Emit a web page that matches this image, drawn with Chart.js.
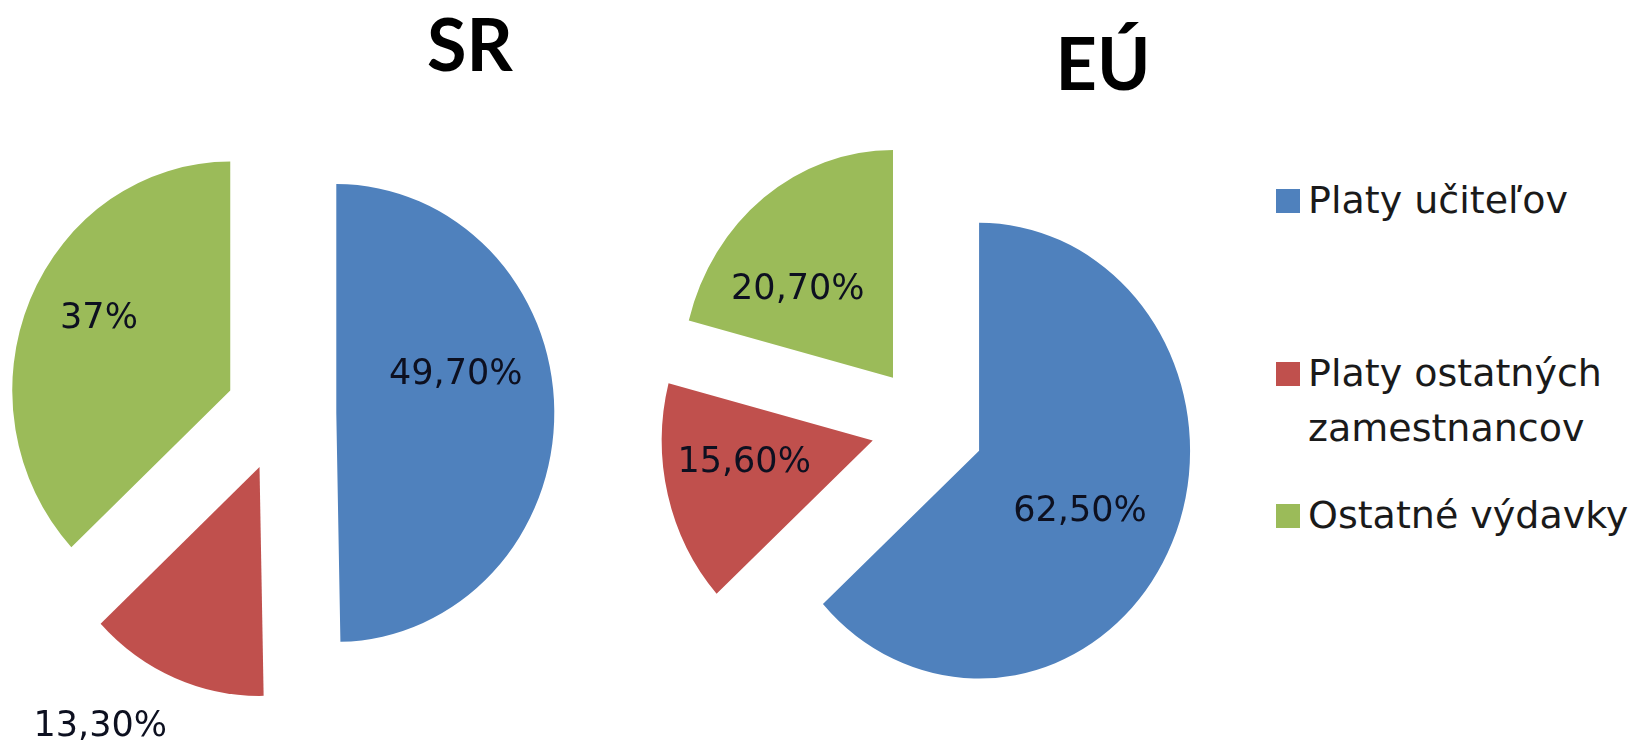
<!DOCTYPE html>
<html lang="sk">
<head>
    <meta charset="UTF-8">
    <title>Štruktúra výdavkov na školstvo – SR a EÚ</title>
    <script src="https://cdn.jsdelivr.net/npm/chart.js"></script>
    <style>
        html, body { margin: 0; padding: 0; background: #fff; overflow: hidden; }
        #page { position: relative; width: 1641px; height: 743px; }
        canvas { position: absolute; top: 0; }
        .title {
            position: absolute; font: bold 72px Lato, sans-serif; line-height: 1;
            color: #000; transform: translateX(-50%); white-space: nowrap;
        }
        .legend-item {
            position: absolute; left: 1276px; width: 365px;
            font: 38px "DejaVu Sans", sans-serif; line-height: 55px; color: #1a1a1a;
        }
        .legend-item .box { position: absolute; left: 0; width: 24px; height: 24px; top: 16px; }
        .legend-item .txt { margin-left: 32px; width: 333px; }
    </style>
</head>
<body>
<div id="page">
    <canvas id="srChart" width="600" height="743" style="left:0"></canvas>
    <canvas id="euChart" width="600" height="743" style="left:640px"></canvas>
</div>
<script>
    // data
    const categories = ['Platy učiteľov', 'Platy ostatných zamestnancov', 'Ostatné výdavky'];
    const srValues = [49.7, 13.3, 37];
    const euValues = [62.5, 15.6, 20.7];
    const chartTitles = ['SR', 'EÚ'];

    const colors = ['#4F81BD', '#C0504D', '#9BBB59'];

    // "49,70%" but "37%"
    function fmt(v) {
        return Number.isInteger(v) ? v + '%' : v.toFixed(2).replace('.', ',') + '%';
    }

    // pulls every slice out along its middle angle (Excel style explosion),
    // the source picture is a bit stretched vertically, hence the scale
    function explodePlugin(distance, stretch) {
        return {
            id: 'explode',
            beforeDatasetDraw(chart, args) {
                const ctx = chart.ctx;
                const arcs = args.meta.data;
                const cx = arcs[0].x, cy = arcs[0].y;
                arcs.forEach(arc => {
                    const mid = (arc.startAngle + arc.endAngle) / 2;
                    ctx.save();
                    ctx.translate(cx, cy);
                    ctx.scale(1, stretch);
                    ctx.translate(-cx, -cy);
                    ctx.translate(Math.cos(mid) * distance, Math.sin(mid) * distance);
                    arc.draw(ctx);
                    ctx.restore();
                });
                return false;
            }
        };
    }

    // percentage labels, placed at a distance from the pie centre
    function labelPlugin(place) {
        return {
            id: 'sliceLabels',
            afterDatasetsDraw(chart) {
                const ctx = chart.ctx;
                const meta = chart.getDatasetMeta(0);
                const values = chart.data.datasets[0].data;
                ctx.save();
                ctx.font = '35px "DejaVu Sans", sans-serif';
                ctx.fillStyle = '#0d1020';
                ctx.textAlign = 'center';
                ctx.textBaseline = 'middle';
                meta.data.forEach((arc, i) => {
                    const a = (arc.startAngle + arc.endAngle) / 2 + place.shift[i] * Math.PI / 180;
                    const d = place.dist[i];
                    ctx.fillText(fmt(values[i]), arc.x + Math.cos(a) * d, arc.y + Math.sin(a) * d);
                });
                ctx.restore();
            }
        };
    }

    function makePie(id, values, cfg) {
        return new Chart(document.getElementById(id), {
            type: 'pie',
            data: {
                labels: categories,
                datasets: [{
                    data: values,
                    backgroundColor: colors,
                    borderWidth: 0,
                    radius: cfg.radius
                }]
            },
            options: {
                responsive: false,
                animation: false,
                events: [],
                layout: { padding: cfg.padding },
                plugins: {
                    legend: { display: false },
                    tooltip: { enabled: false }
                }
            },
            plugins: [explodePlugin(cfg.explode, cfg.stretch), labelPlugin(cfg.labels)]
        });
    }

    makePie('srChart', srValues, {
        radius: 218,
        stretch: 1.05,
        explode: 55.3,
        padding: { left: 0, right: 38, top: 84, bottom: 0 },
        labels: { dist: [179, 362, 205], shift: [-11.9, 7.1, 4] }
    });

    makePie('euChart', euValues, {
        radius: 211,
        stretch: 1.08,
        explode: 56.4,
        padding: { left: 0, right: 25, top: 109, bottom: 0 },
        labels: { dist: [175, 187, 188], shift: [5.5, 2.5, -5.9] }
    });

    // titles
    const page = document.getElementById('page');
    const titlePos = [[470, 7], [1103, 26]];
    chartTitles.forEach((t, i) => {
        const el = document.createElement('div');
        el.className = 'title';
        el.textContent = t;
        el.style.left = titlePos[i][0] + 'px';
        el.style.top = titlePos[i][1] + 'px';
        page.appendChild(el);
    });

    // legend
    const legendTops = [173, 346, 488];
    categories.forEach((c, i) => {
        const item = document.createElement('div');
        item.className = 'legend-item';
        item.style.top = legendTops[i] + 'px';
        item.innerHTML = '<div class="box" style="background:' + colors[i] + '"></div><div class="txt"></div>';
        item.querySelector('.txt').textContent = c;
        page.appendChild(item);
    });
</script>
</body>
</html>
